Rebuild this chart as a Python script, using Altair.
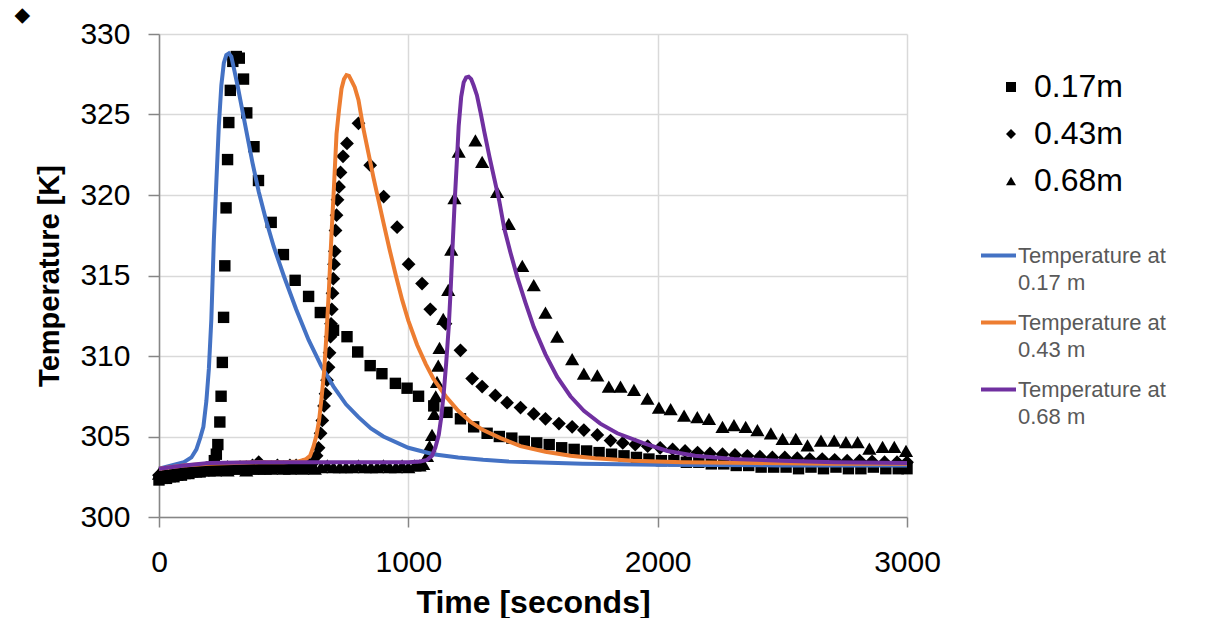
import altair as alt
import pandas as pd

# ---- measured data (0.17 m, squares) ----
sq_t = [0, 15, 30, 45, 60, 75, 90, 105, 120, 135, 150, 165, 180, 195, 210, 222, 230,
        236, 244, 249, 254, 259, 264, 269, 275, 280, 286, 296, 310, 322, 339, 352, 381, 399,
        450, 499, 546, 600, 647, 700, 754, 797, 847, 894, 948, 995, 1041, 1102, 1155, 1209,
        1262, 1316, 1365, 1415, 1465, 1515, 1565, 1615, 1665, 1715, 1765, 1815, 1865, 1915,
        1965, 2015, 2065, 2115, 2165, 2215, 2265, 2315, 2365, 2415, 2465, 2515, 2565, 2615,
        2665, 2715, 2765, 2815, 2865, 2915, 2965, 3000]
sq_T = [302.3, 302.4, 302.4, 302.5, 302.5, 302.6, 302.6, 302.7, 302.7, 302.8, 302.8, 302.8, 302.9, 302.9, 303.1, 303.5, 303.9,
        304.5, 305.9, 307.5, 309.6, 312.4, 315.6, 319.2, 322.2, 324.5, 326.5, 328.3, 328.6, 328.5, 327.2, 325.1, 323.0, 320.9,
        318.3, 316.3, 314.7, 313.7, 312.7, 311.6, 311.2, 310.25, 309.4, 308.9, 308.3, 308.0, 307.5, 306.9, 306.5, 306.1,
        305.6, 305.2, 305.0, 304.9, 304.7, 304.6, 304.5, 304.3, 304.2, 304.1, 304.0, 303.9, 303.8, 303.7,
        303.6, 303.5, 303.5, 303.4, 303.4, 303.3, 303.3, 303.2, 303.2, 303.1, 303.1, 303.1, 303.0, 303.1,
        303.0, 303.1, 303.0, 303.0, 303.1, 303.0, 303.0, 303.0]

# ---- measured data (0.43 m, diamonds) ----
di_t = [0, 25, 50, 75, 100, 125, 150, 175, 200, 225, 250, 275, 300, 325, 350, 375, 400, 425, 450,
        475, 500, 525, 550, 575, 600, 620, 632, 640, 648, 655, 662, 668, 674, 680, 684, 688, 690,
        693, 696, 699, 702, 705, 708, 712, 716, 722, 728, 738, 754, 800, 847, 901, 955, 1001,
        1055, 1088, 1149, 1209, 1256, 1296, 1349, 1396, 1450, 1503, 1550, 1604, 1657, 1704, 1758,
        1811, 1860, 1910, 1960, 2010, 2060, 2110, 2160, 2210, 2260, 2310, 2360, 2410, 2460, 2510,
        2560, 2610, 2660, 2710, 2760, 2810, 2860, 2910, 2960, 3000]
di_T = [302.6, 302.7, 302.7, 302.8, 302.8, 302.9, 302.9, 302.9, 303.0, 303.0, 303.0, 303.1, 303.0, 303.1, 303.1, 303.2, 303.4, 303.1, 303.1,
        303.2, 303.1, 303.2, 303.2, 303.2, 303.3, 303.4, 303.8, 304.3, 305.2, 306.0, 306.9, 307.65, 308.5, 309.3, 310.2, 311.2, 312.0,
        312.9, 313.9, 314.8, 315.7, 316.5, 317.8, 318.75, 319.7, 320.5, 321.4, 322.4, 323.2, 324.45, 321.85, 319.9, 318.0, 315.7,
        314.5, 312.9, 312.0, 310.35, 308.6, 308.1, 307.55, 307.1, 306.8, 306.4, 306.1, 305.8, 305.6, 305.4, 305.1,
        304.75, 304.6, 304.5, 304.4, 304.3, 304.2, 304.1, 304.0, 303.95, 303.9, 303.85, 303.8, 303.75, 303.7, 303.7,
        303.65, 303.6, 303.6, 303.55, 303.5, 303.5, 303.45, 303.4, 303.4, 303.4]

# ---- measured data (0.68 m, triangles) ----
tr_t = [0, 25, 50, 75, 100, 125, 150, 175, 200, 225, 250, 275, 300, 325, 350, 375, 400, 425, 450,
        475, 500, 525, 550, 575, 600, 625, 650, 675, 700, 725, 750, 775, 800, 825, 850, 875, 900,
        925, 950, 975, 1000, 1025, 1045, 1060, 1075, 1085, 1095, 1104, 1110, 1115, 1120, 1125,
        1140, 1160, 1172, 1185, 1202, 1269, 1296, 1356, 1403, 1457, 1503, 1550, 1597, 1657, 1704,
        1758, 1804, 1851, 1905, 1959, 2005, 2052, 2106, 2159, 2206, 2260, 2306, 2353, 2400, 2454,
        2501, 2554, 2601, 2655, 2708, 2755, 2802, 2849, 2902, 2949, 2996]
tr_T = [302.7, 302.7, 302.8, 302.8, 302.8, 302.9, 302.9, 302.9, 302.9, 302.9, 303.0, 302.9, 303.0, 303.0, 302.9, 303.0, 303.0, 303.0, 303.0,
        303.1, 303.0, 303.0, 303.1, 303.0, 303.1, 303.0, 303.1, 303.2, 303.1, 303.1, 303.1, 303.1, 303.2, 303.1, 303.1, 303.1, 303.2,
        303.1, 303.1, 303.2, 303.1, 303.2, 303.2, 303.3, 303.8, 304.4, 305.1, 306.4, 307.5, 308.4, 309.4, 310.5,
        312.3, 314.1, 316.6, 319.8, 322.7, 323.4, 322.05, 320.2, 318.2, 315.6, 314.4, 312.7, 311.2, 309.8, 308.9,
        308.8, 308.1, 308.1, 307.9, 307.35, 306.8, 306.7, 306.3, 306.2, 306.1, 305.6, 305.7, 305.6, 305.4, 305.2,
        304.85, 304.85, 304.45, 304.75, 304.75, 304.65, 304.65, 304.25, 304.35, 304.35, 304.1]

# ---- model curves ----
bl_t = [0, 50, 100, 130, 150, 165, 178, 190, 200, 210, 220, 230, 240, 250, 260, 270, 280, 290, 300,
        315, 330, 350, 375, 400, 430, 460, 500, 550, 600, 650, 700, 750, 800, 850, 900, 1000, 1100,
        1200, 1300, 1400, 1500, 1700, 2000, 2500, 3000]
bl_T = [303.0, 303.2, 303.4, 303.7, 304.2, 304.9, 305.6, 307.2, 309.2, 312.3, 317.2, 320.8, 324.3, 326.8, 328.2, 328.7, 328.8, 328.6, 327.9,
        326.8, 325.6, 324.0, 322.0, 320.2, 318.4, 316.8, 315.0, 312.9, 311.0, 309.4, 308.1, 307.0, 306.2, 305.5, 305.0, 304.3, 303.9,
        303.7, 303.55, 303.45, 303.4, 303.3, 303.25, 303.2, 303.2]

or_t = [0, 100, 200, 300, 400, 500, 560, 590, 606, 620, 632, 642, 652, 662, 672, 682, 692, 702, 712,
        722, 732, 742, 752, 762, 772, 785, 800, 820, 840, 860, 880, 900, 925, 950, 975, 1000, 1035,
        1070, 1100, 1150, 1200, 1250, 1300, 1370, 1450, 1550, 1650, 1750, 1900, 2100, 2400, 2700, 3000]
or_T = [303.0, 303.2, 303.3, 303.35, 303.4, 303.4, 303.45, 303.6, 303.8, 304.4, 305.1, 306.0, 307.4, 309.0, 311.4, 314.3, 317.6, 320.6, 323.8,
        325.3, 326.6, 327.2, 327.45, 327.4, 327.1, 326.7, 325.9, 324.1, 322.6, 321.1, 319.7, 318.3, 316.6, 315.0, 313.5, 312.2, 310.7,
        309.5, 308.6, 307.5, 306.6, 305.9, 305.4, 304.9, 304.4, 304.05, 303.8, 303.65, 303.5, 303.4, 303.35, 303.3, 303.3]

pu_t = [0, 100, 200, 400, 700, 1000, 1048, 1075, 1095, 1108, 1122, 1132, 1142, 1152, 1162, 1170, 1178,
        1186, 1194, 1202, 1212, 1222, 1232, 1242, 1252, 1262, 1275, 1290, 1305, 1325, 1345, 1365, 1385,
        1410, 1437, 1470, 1503, 1550, 1597, 1650, 1704, 1770, 1838, 1940, 2039, 2150, 2306, 2500, 2708, 3000]
pu_T = [303.0, 303.2, 303.35, 303.4, 303.4, 303.4, 303.45, 303.55, 303.8, 304.3, 305.1, 306.2, 307.7, 309.6, 311.8, 314.2, 317.0,
        319.6, 321.9, 324.3, 326.1, 327.0, 327.3, 327.35, 327.2, 326.8, 326.2, 325.1, 323.9, 322.4, 321.0, 319.6, 317.9,
        316.4, 314.9, 313.3, 311.8, 310.1, 308.7, 307.5, 306.6, 305.8, 305.2, 304.6, 304.1, 303.8, 303.6, 303.5, 303.4, 303.35]

meas_names = ["0.17m", "0.43m", "0.68m"]
meas_shapes = ["square", "diamond", "triangle-up"]
meas_sizes = [130, 190, 200]
model_names = ["Temperature at 0.17 m", "Temperature at 0.43 m", "Temperature at 0.68 m"]
model_colors = ["#4472C4", "#ED7D31", "#7030A0"]

meas_frames = [
    pd.DataFrame({"t": sq_t, "T": sq_T, "series": meas_names[0]}),
    pd.DataFrame({"t": di_t, "T": di_T, "series": meas_names[1]}),
    pd.DataFrame({"t": tr_t, "T": tr_T, "series": meas_names[2]}),
]
lines = pd.concat([
    pd.DataFrame({"t": bl_t, "T": bl_T, "model": model_names[0], "o": range(len(bl_t))}),
    pd.DataFrame({"t": or_t, "T": or_T, "model": model_names[1], "o": range(len(or_t))}),
    pd.DataFrame({"t": pu_t, "T": pu_T, "model": model_names[2], "o": range(len(pu_t))}),
])

FONT = "Liberation Sans"

x_enc = alt.X("t:Q", scale=alt.Scale(domain=[0, 3000], nice=False),
              axis=alt.Axis(title="Time [seconds]", values=[0, 1000, 2000, 3000], format="d",
                            labelFlush=False))
y_enc = alt.Y("T:Q", scale=alt.Scale(domain=[300, 330], nice=False, zero=False),
              axis=alt.Axis(title="Temperature [K]", values=[300, 305, 310, 315, 320, 325, 330], format="d"))

shape_legend = alt.Legend(title=None, orient="none", legendX=836, legendY=37,
                          labelFontSize=32, labelColor="black", labelFont=FONT,
                          labelOffset=7, rowPadding=15, padding=0,
                          symbolSize=100, symbolFillColor="black",
                          symbolStrokeColor="black", symbolStrokeWidth=0)

point_layers = []
for df, sz in zip(meas_frames, meas_sizes):
    point_layers.append(
        alt.Chart(df).mark_point(filled=True, color="black", opacity=1, size=sz).encode(
            x=x_enc, y=y_enc,
            shape=alt.Shape("series:N",
                            scale=alt.Scale(domain=meas_names, range=meas_shapes),
                            legend=shape_legend),
        )
    )

curves = alt.Chart(lines).mark_line(strokeWidth=4).encode(
    x="t:Q", y="T:Q", order="o:Q",
    color=alt.Color("model:N",
                    scale=alt.Scale(domain=model_names, range=model_colors),
                    legend=alt.Legend(title=None, orient="none", legendX=820, legendY=202,
                                      labelFontSize=22, labelColor="#595959", labelFont=FONT,
                                      labelExpr="['Temperature at', slice(datum.label, 15)]",
                                      labelOffset=0, rowPadding=9, padding=0,
                                      symbolType="stroke", symbolSize=1225,
                                      symbolStrokeWidth=4, labelBaseline="middle")),
)

chart = alt.layer(*point_layers, curves).properties(
    width=748, height=483,
    padding={"left": 159, "top": 34, "right": 304, "bottom": 101},
    autosize=alt.AutoSizeParams(type="none"),
    title=alt.TitleParams(text="◆", anchor="start", frame="group", fontSize=19,
                          dx=-144, dy=12, offset=6, color="black"),
).configure(
    background="white",
    style={"guide-label": {"lineHeight": 27}},
).configure_view(stroke=None).configure_axis(
    labelFont=FONT, titleFont=FONT, labelFontSize=30, labelColor="black",
    titleFontSize=29, titleFontWeight="bold", titleColor="black",
    gridColor="#D9D9D9", gridWidth=1.5, domainColor="#868686", domainWidth=1.5,
    tickColor="#868686", tickWidth=1.5,
).configure_axisX(
    tickSize=10, labelPadding=20, titlePadding=10, titleFontSize=32,
).configure_axisY(
    tickSize=11, labelPadding=18, titlePadding=15,
)

chart.save("out.html", embed_options={"renderer": "svg", "actions": False})
